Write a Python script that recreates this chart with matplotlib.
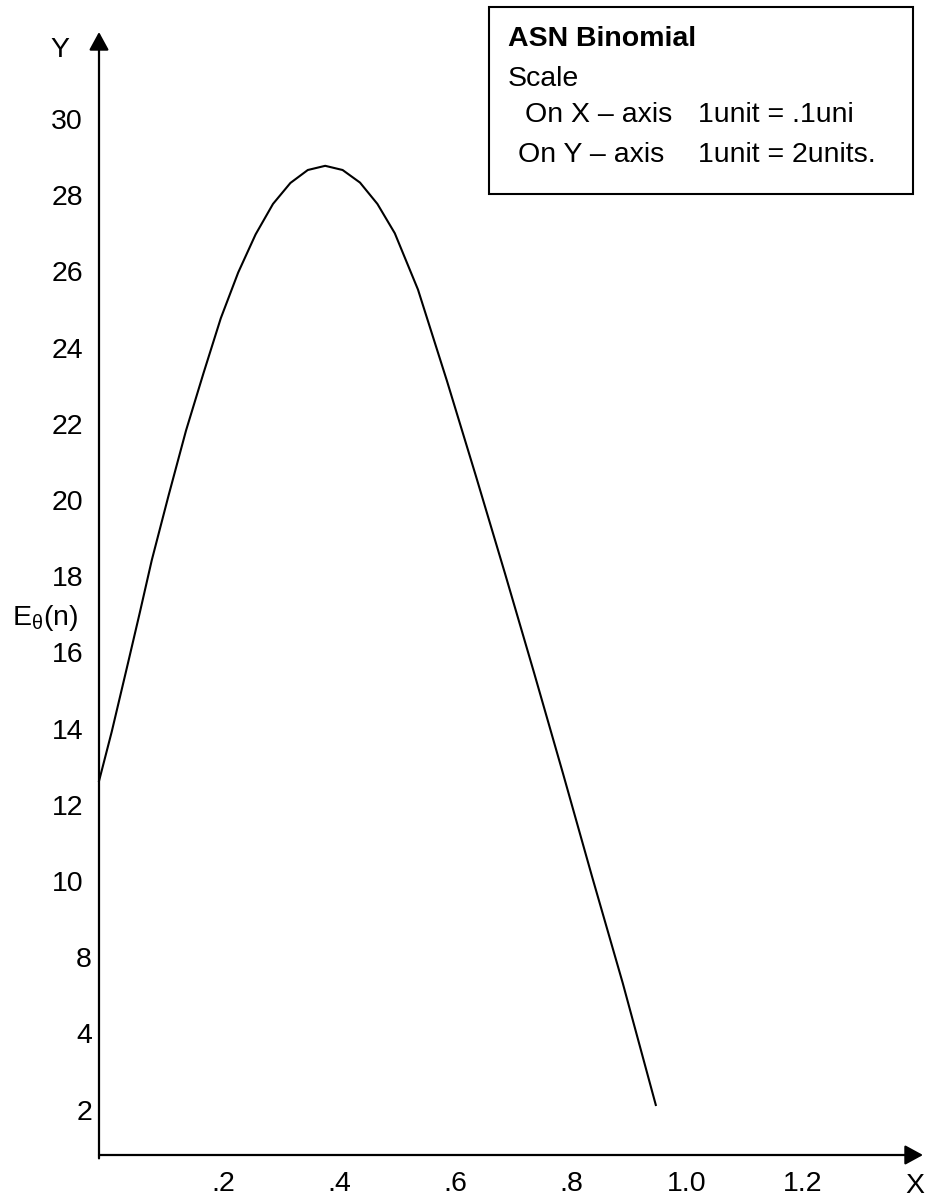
import matplotlib
matplotlib.use("Agg")
import matplotlib.pyplot as plt
from matplotlib.patches import Rectangle
from matplotlib import transforms

plt.rcParams['font.family'] = ['Liberation Sans', 'DejaVu Sans']
plt.rcParams['mathtext.fontset'] = 'custom'
plt.rcParams['mathtext.rm'] = 'Liberation Sans'
plt.rcParams['mathtext.it'] = 'Liberation Sans'

# curve (x in units of the x axis, y in plotted position)
p = [0.0, 0.022, 0.05, 0.07, 0.091, 0.12, 0.15, 0.18, 0.21, 0.24, 0.27, 0.3,
     0.33, 0.36, 0.39, 0.42, 0.45, 0.48, 0.51, 0.55, 0.6, 0.65, 0.7, 0.75,
     0.8, 0.85, 0.903, 0.96]
asn = [12.7, 14.0, 15.8, 17.1, 18.5, 20.2, 21.9, 23.4, 24.85, 26.05, 27.05, 27.85,
       28.4, 28.74, 28.85, 28.74, 28.41, 27.85, 27.08, 25.6, 23.2, 20.7, 18.15, 15.55,
       12.9, 10.2, 7.4, 4.2]

xtick_pos = [0.2, 0.4, 0.6, 0.8, 1.0, 1.2]
xtick_lab = ['.2', '.4', '.6', '.8', '1.0', '1.2']
ytick_pos = [30, 28, 26, 24, 22, 20, 18, 16, 14, 12, 10, 8, 6, 4]
ytick_lab = ['30', '28', '26', '24', '22', '20', '18', '16', '14', '12', '10', '8', '4', '2']

W, H = 930, 1198
fig = plt.figure(figsize=(W / 100, H / 100), dpi=100)

def fx(x):
    return x / W

def fy(y):
    return 1 - y / H

x0, y0, x1, y1 = 99, 1155, 923, 32
ax = fig.add_axes([fx(x0), fy(y0), (x1 - x0) / W, (y0 - y1) / H])
ax.set_xlim(0, (x1 - x0) / 580)
ax.set_ylim(30 - (y0 - 122) / 38.1, 30 + (122 - y1) / 38.1)
ax.axis('off')

# axes with arrow heads
arr = dict(arrowstyle='-|>,head_length=0.55,head_width=0.3', lw=1.6,
           color='k', mutation_scale=20, shrinkA=0, shrinkB=0)
ax.annotate('', xy=(1, 0), xytext=(0, 0), xycoords='axes fraction', arrowprops=arr)
ax.annotate('', xy=(0, 1), xytext=(0, -0.003), xycoords='axes fraction', arrowprops=arr)

ax.plot(p, asn, color='k', lw=1.5, clip_on=False, solid_joinstyle='round')

fs = 20.5
# tick labels as plain text
xt = transforms.offset_copy(ax.get_xaxis_transform(), fig=fig, x=8, y=0, units='dots')
for v, s in zip(xtick_pos, xtick_lab):
    ax.text(v, fy(1193) - fy(y0), s, transform=xt, ha='center', va='baseline',
            fontsize=fs)
yt = ax.get_yaxis_transform()
for v, s in zip(ytick_pos, ytick_lab):
    xr = -16 / (x1 - x0) if len(s) == 2 else -7 / (x1 - x0)
    ax.text(xr, v, s, transform=yt, ha='right', va='center', fontsize=fs)

fig.text(fx(60), fy(57), 'Y', ha='center', va='baseline', fontsize=fs)
fig.text(fx(915), fy(1193), 'X', ha='center', va='baseline', fontsize=fs)
fig.text(fx(12), fy(618), r'E$_{\mathrm{\theta}}$(n)', ha='left', va='center', fontsize=fs)

# scale box
fig.add_artist(Rectangle((fx(489), fy(194)), (913 - 489) / W, (194 - 7) / H,
                         transform=fig.transFigure, fill=False, lw=1.5, ec='k'))
fig.text(fx(508), fy(46), 'ASN Binomial', fontsize=fs, fontweight='bold', va='baseline')
fig.text(fx(508), fy(86), 'Scale', fontsize=fs, va='baseline')
fig.text(fx(525), fy(122), 'On X \u2013 axis', fontsize=fs, va='baseline')
fig.text(fx(698), fy(122), '1unit = .1uni', fontsize=fs, va='baseline')
fig.text(fx(518), fy(162), 'On Y \u2013 axis', fontsize=fs, va='baseline')
fig.text(fx(698), fy(162), '1unit = 2units.', fontsize=fs, va='baseline')

fig.savefig('out.png', dpi=100)
